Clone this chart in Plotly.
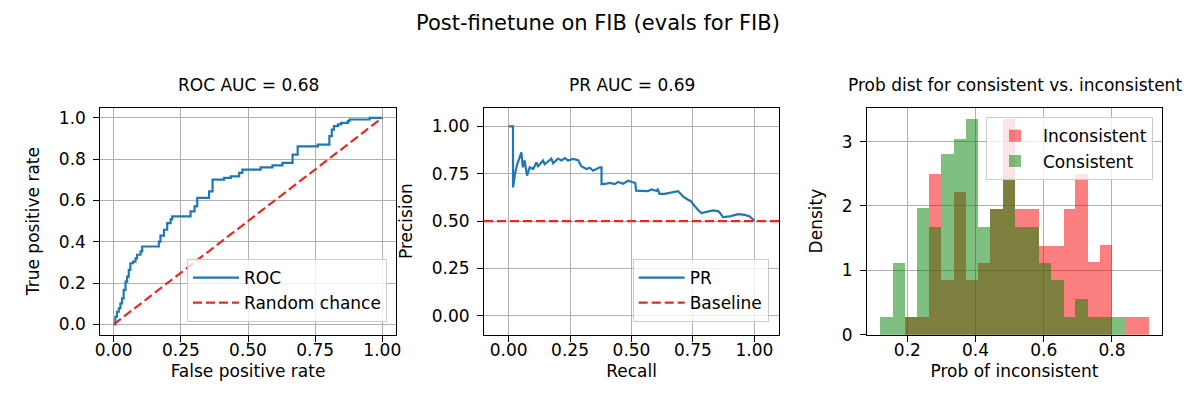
import plotly.graph_objects as go

# ---------------- data ----------------
# ROC curve (step vertices: fpr where the step rises, tpr after the rise)
roc_fpr = [0.000, 0.006, 0.012, 0.019, 0.025, 0.031, 0.037, 0.044, 0.050, 0.056,
           0.062, 0.072, 0.081, 0.087, 0.100, 0.106, 0.168, 0.174, 0.187, 0.199,
           0.212, 0.218, 0.286, 0.301, 0.311, 0.355, 0.368, 0.411, 0.436, 0.467,
           0.479, 0.547, 0.591, 0.628, 0.666, 0.685, 0.760, 0.803, 0.812, 0.820,
           0.835, 0.847, 0.872, 0.878, 0.953, 1.000]
roc_tpr = [0.000, 0.037, 0.061, 0.078, 0.102, 0.126, 0.167, 0.207, 0.231, 0.264,
           0.296, 0.304, 0.320, 0.337, 0.353, 0.377, 0.401, 0.430, 0.458, 0.490,
           0.510, 0.523, 0.547, 0.571, 0.612, 0.644, 0.701, 0.709, 0.717, 0.733,
           0.749, 0.760, 0.770, 0.782, 0.822, 0.862, 0.870, 0.911, 0.943, 0.960,
           0.968, 0.976, 0.984, 0.992, 1.000, 1.000]
chance_x = [0.0, 1.0]
chance_y = [0.0, 1.0]
roc_auc = 0.68

# Precision-recall curve
pr_recall = [0.000, 0.018, 0.018, 0.026, 0.035, 0.052, 0.058, 0.065, 0.075, 0.086,
             0.100, 0.113, 0.120, 0.140, 0.147, 0.174, 0.181, 0.201, 0.215, 0.228,
             0.242, 0.262, 0.283, 0.296, 0.317, 0.330, 0.344, 0.357, 0.371, 0.378,
             0.378, 0.398, 0.412, 0.432, 0.446, 0.466, 0.486, 0.505, 0.515, 0.519,
             0.546, 0.567, 0.581, 0.601, 0.607, 0.614, 0.635, 0.655, 0.689, 0.703,
             0.709, 0.730, 0.743, 0.750, 0.757, 0.770, 0.784, 0.811, 0.832, 0.852,
             0.859, 0.872, 0.900, 0.933, 0.961, 0.981, 0.995, 1.000]
pr_precision = [1.000, 1.000, 0.677, 0.750, 0.800, 0.863, 0.784, 0.820, 0.740, 0.784,
                0.775, 0.810, 0.790, 0.820, 0.800, 0.830, 0.805, 0.830, 0.820, 0.833,
                0.820, 0.828, 0.822, 0.790, 0.775, 0.782, 0.766, 0.775, 0.784, 0.784,
                0.695, 0.698, 0.702, 0.695, 0.707, 0.697, 0.713, 0.705, 0.702, 0.661,
                0.658, 0.658, 0.667, 0.660, 0.667, 0.644, 0.644, 0.649, 0.658, 0.640,
                0.631, 0.613, 0.604, 0.590, 0.578, 0.560, 0.543, 0.551, 0.557, 0.553,
                0.545, 0.521, 0.525, 0.537, 0.533, 0.525, 0.507, 0.502]
pr_baseline = 0.5
pr_auc = 0.69

# Histogram (density) of P(inconsistent)
bin_edges = [0.121, 0.157, 0.193, 0.229, 0.264, 0.300, 0.336, 0.372, 0.407, 0.443,
             0.479, 0.515, 0.550, 0.586, 0.622, 0.658, 0.693, 0.729, 0.765, 0.801,
             0.837, 0.872, 0.908]
dens_inconsistent = [0.0, 0.0, 0.285, 0.285, 2.51, 0.86, 2.22, 0.86, 1.12, 1.96,
                     3.36, 1.96, 1.96, 1.39, 1.39, 1.96, 2.51, 1.14, 1.40, 0.0,
                     0.285, 0.285]
dens_consistent = [0.285, 1.116, 0.285, 1.97, 1.68, 2.81, 3.05, 3.36, 1.68, 1.96,
                   2.46, 1.68, 1.68, 1.12, 0.86, 0.285, 0.57, 0.285, 0.285, 0.285,
                   0.0, 0.0]

# ---------------- figure ----------------
W, H = 1200, 393
FONT = "DejaVu Sans"
FS = 17
BLUE = "#1f77b4"
RED = "#e52a22"

roc_range = [-0.05, 1.05]
pr_range = [-0.1, 1.1]
hist_xrange = [0.0817, 0.9467]
hist_yrange = [0, 3.53]

fig = go.Figure()

# ROC
fig.add_trace(go.Scatter(x=roc_fpr, y=roc_tpr, mode="lines", name="ROC",
                         line=dict(color=BLUE, width=2.2, shape="hv"),
                         xaxis="x", yaxis="y", legend="legend"))
fig.add_trace(go.Scatter(x=chance_x, y=chance_y, mode="lines", name="Random chance",
                         line=dict(color=RED, width=2.2, dash="9px,4px"),
                         xaxis="x", yaxis="y", legend="legend"))

# PR
fig.add_trace(go.Scatter(x=pr_recall, y=pr_precision, mode="lines", name="PR",
                         line=dict(color=BLUE, width=2.2),
                         xaxis="x2", yaxis="y2", legend="legend2"))
fig.add_trace(go.Scatter(x=pr_range, y=[pr_baseline, pr_baseline], mode="lines",
                         name="Baseline",
                         line=dict(color=RED, width=2.2, dash="9px,4px"),
                         xaxis="x2", yaxis="y2", legend="legend2"))

# Histogram
centers = [(a + b) / 2 for a, b in zip(bin_edges[:-1], bin_edges[1:])]
widths = [b - a for a, b in zip(bin_edges[:-1], bin_edges[1:])]
fig.add_trace(go.Bar(x=centers, y=dens_inconsistent, width=widths, name="Inconsistent",
                     marker=dict(color="rgba(245,0,0,0.5)", line=dict(width=0)),
                     xaxis="x3", yaxis="y3", legend="legend3"))
fig.add_trace(go.Bar(x=centers, y=dens_consistent, width=widths, name="Consistent",
                     marker=dict(color="rgba(0,128,0,0.5)", line=dict(width=0)),
                     xaxis="x3", yaxis="y3", legend="legend3"))

def ax(domain, rng, tickvals, fmt, title, anchor, is_x):
    return dict(domain=domain, range=rng, tickvals=tickvals, tickformat=fmt,
                anchor=anchor, automargin=False, showline=True, mirror=True,
                linecolor="black", linewidth=1, ticks="outside", ticklen=6,
                tickwidth=1, tickcolor="black", showgrid=True, gridcolor="#b0b0b0",
                gridwidth=1, zeroline=False, tickfont=dict(size=FS, color="black"),
                ticklabelstandoff=(-6 if is_x else 4),
                title=dict(text=title, font=dict(size=FS, color="black"),
                           standoff=(6 if is_x else 14)))

ydom = [1 - 326.7 / H, 1 - 99.5 / H]
d1 = [92.3 / W, 387.7 / W]
d2 = [476.0 / W, 771.0 / W]
d3 = [859.0 / W, 1154.0 / W]

legend_style = dict(bgcolor="rgba(255,255,255,0.8)", bordercolor="#cccccc",
                    borderwidth=1, itemwidth=46,
                    font=dict(family=FONT, size=FS, color="black"))

fig.update_layout(
    width=W, height=H,
    margin=dict(l=0, r=0, t=0, b=0, autoexpand=False),
    paper_bgcolor="white", plot_bgcolor="white",
    font=dict(family=FONT, size=FS, color="black"),
    barmode="overlay", bargap=0,
    xaxis=ax(d1, roc_range, [0, 0.25, 0.5, 0.75, 1.0], ".2f", "False positive rate", "y", True),
    yaxis=ax(ydom, roc_range, [0, 0.2, 0.4, 0.6, 0.8, 1.0], ".1f", "True positive rate", "x", False),
    xaxis2=ax(d2, pr_range, [0, 0.25, 0.5, 0.75, 1.0], ".2f", "Recall", "y2", True),
    yaxis2=ax(ydom, pr_range, [0, 0.25, 0.5, 0.75, 1.0], ".2f", "Precision", "x2", False),
    xaxis3=ax(d3, hist_xrange, [0.2, 0.4, 0.6, 0.8], ".1f", "Prob of inconsistent", "y3", True),
    yaxis3=ax(ydom, hist_yrange, [0, 1, 2, 3], "d", "Density", "x3", False),
    showlegend=True,
    legend=dict(x=379 / W, y=1 - 314 / H, xanchor="right", yanchor="bottom", **legend_style),
    legend2=dict(x=760.7 / W, y=1 - 314 / H, xanchor="right", yanchor="bottom", **legend_style),
    legend3=dict(x=1145 / W, y=1 - 109.3 / H, xanchor="right", yanchor="top", **legend_style),
)

annots = [
    dict(text="Post-finetune on FIB (evals for FIB)", x=590 / W, y=1 - 15 / H, size=21),
    dict(text=f"ROC AUC = {roc_auc:.2f}", x=(d1[0] + d1[1]) / 2, y=1 - 77 / H, size=FS),
    dict(text=f"PR AUC = {pr_auc:.2f}", x=(d2[0] + d2[1]) / 2, y=1 - 77 / H, size=FS),
    dict(text="Prob dist for consistent vs. inconsistent", x=(d3[0] + d3[1]) / 2,
         y=1 - 77 / H, size=FS),
]
for a in annots:
    fig.add_annotation(text=a["text"], x=a["x"], y=a["y"], xref="paper", yref="paper",
                       xanchor="center", yanchor="middle", showarrow=False,
                       font=dict(family=FONT, size=a["size"], color="black"))

fig.write_html("out.html")
